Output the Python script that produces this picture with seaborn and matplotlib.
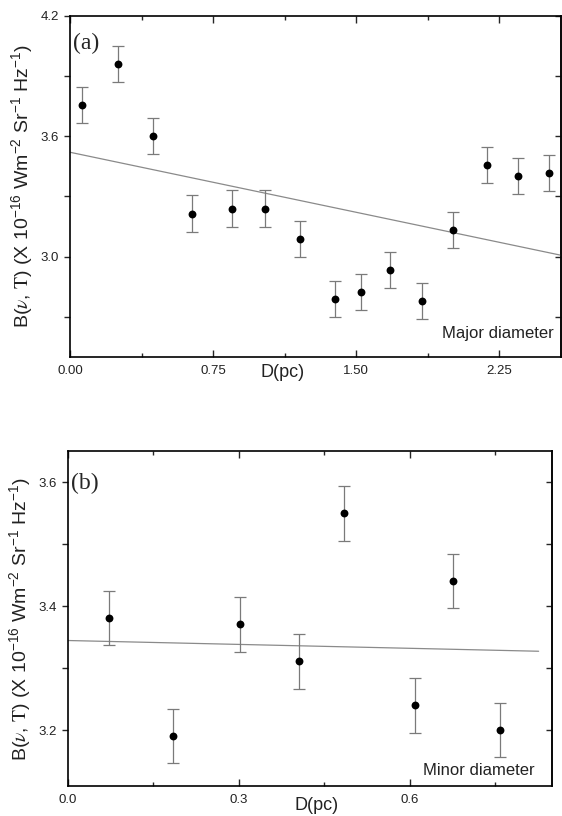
import numpy as np
import pandas as pd
import matplotlib
matplotlib.use("Agg")
import matplotlib.pyplot as plt
from matplotlib.ticker import MultipleLocator, FormatStrFormatter
import seaborn as sns

# (a) major diameter
major_d = [0.063, 0.252, 0.435, 0.640, 0.850, 1.023, 1.206, 1.390, 1.525, 1.677, 1.848, 2.009, 2.187, 2.348, 2.514]
major_b = [3.755, 3.960, 3.600, 3.215, 3.240, 3.240, 3.087, 2.788, 2.825, 2.933, 2.778, 3.132, 3.455, 3.400, 3.418]
major_err = [0.09] * 15

# (b) minor diameter
minor_d = [0.0725, 0.184, 0.302, 0.405, 0.485, 0.609, 0.675, 0.758]
minor_b = [3.381, 3.191, 3.371, 3.311, 3.550, 3.240, 3.441, 3.200]
minor_err = [0.044] * 8

ylabel = (r"B($\nu$, $\mathrm{T}$) (X 10$\mathregular{^{-16}}$ Wm$\mathregular{^{-2}}$ "
          r"Sr$\mathregular{^{-1}}$ Hz$\mathregular{^{-1}}$)")

sns.set_style("ticks")
plt.rcParams["font.family"] = ["Liberation Sans", "DejaVu Sans"]
plt.rcParams["mathtext.fontset"] = "stix"

fig = plt.figure(figsize=(5.62, 8.16), dpi=100)
ax_a = fig.add_axes([0.1246, 0.5625, 0.8737, 0.418])
ax_b = fig.add_axes([0.121, 0.0368, 0.8607, 0.41])


def draw_panel(ax, d, b, err, fit_end, xlim, ylim, xmaj, ymaj, xfmt, tag, name, name_y, dlabel_xy):
    df = pd.DataFrame({"D": d, "B": b, "err": err})
    # fitted straight line
    k, c = np.polyfit(df["D"], df["B"], 1)
    fx = np.array([0.0, fit_end])
    sns.lineplot(x=fx, y=k * fx + c, ax=ax, color="#8a8a8a", lw=0.9)
    ax.errorbar(df["D"], df["B"], yerr=df["err"], fmt="none", ecolor="#7a7a7a",
                elinewidth=0.9, capsize=4.5, capthick=0.9)
    sns.scatterplot(data=df, x="D", y="B", ax=ax, color="black", s=32,
                    edgecolor="black", linewidth=0, zorder=5)
    ax.set_xlim(*xlim)
    ax.set_ylim(*ylim)
    ax.xaxis.set_major_locator(MultipleLocator(xmaj))
    ax.xaxis.set_minor_locator(MultipleLocator(xmaj / 2))
    ax.yaxis.set_major_locator(MultipleLocator(ymaj))
    ax.yaxis.set_minor_locator(MultipleLocator(ymaj / 2))
    ax.xaxis.set_major_formatter(FormatStrFormatter(xfmt))
    ax.yaxis.set_major_formatter(FormatStrFormatter("%.1f"))
    ax.tick_params(axis="x", which="both", direction="in", top=True, bottom=True,
                   labelsize=9.5, pad=6, labelcolor="#222222")
    ax.tick_params(axis="x", which="major", length=5, width=1)
    ax.tick_params(axis="x", which="minor", length=3, width=1)
    ax.tick_params(axis="y", which="both", direction="out", left=True, right=False,
                   labelsize=9.5, length=4, width=1, pad=4, labelcolor="#222222")
    for s in ax.spines.values():
        s.set_visible(True)
        s.set_linewidth(1.2)
        s.set_color("black")
    sec = ax.secondary_yaxis("right")
    sec.yaxis.set_major_locator(MultipleLocator(ymaj))
    sec.yaxis.set_minor_locator(MultipleLocator(ymaj / 2))
    sec.tick_params(axis="y", which="both", direction="in", length=4, width=1, labelright=False)
    sec.spines["right"].set_linewidth(1.2)
    ax.set_xlabel("")
    ax.set_ylabel(ylabel, fontsize=14, labelpad=4, color="#222222")
    ax.text(dlabel_xy[0], dlabel_xy[1], "D(pc)", transform=ax.transAxes,
            ha="center", va="center", fontsize=13, color="#222222")
    ax.text(0.006, 0.92 if tag == "(a)" else 0.905, tag, transform=ax.transAxes,
            ha="left", va="center", fontsize=17, family="Liberation Serif")
    ax.text(0.985 if tag == "(a)" else 0.965, name_y, name, transform=ax.transAxes,
            ha="right", va="center", fontsize=12, color="#222222")


draw_panel(ax_a, major_d, major_b, major_err, 2.575, (0, 2.575), (2.5, 4.2), 0.75, 0.6,
           "%.2f", "(a)", "Major diameter", 0.068, (0.432, -0.044))
draw_panel(ax_b, minor_d, minor_b, minor_err, 0.826, (0, 0.849), (3.11, 3.65), 0.3, 0.2,
           "%.1f", "(b)", "Minor diameter", 0.045, (0.513, -0.057))

fig.savefig("out.png", dpi=100)
